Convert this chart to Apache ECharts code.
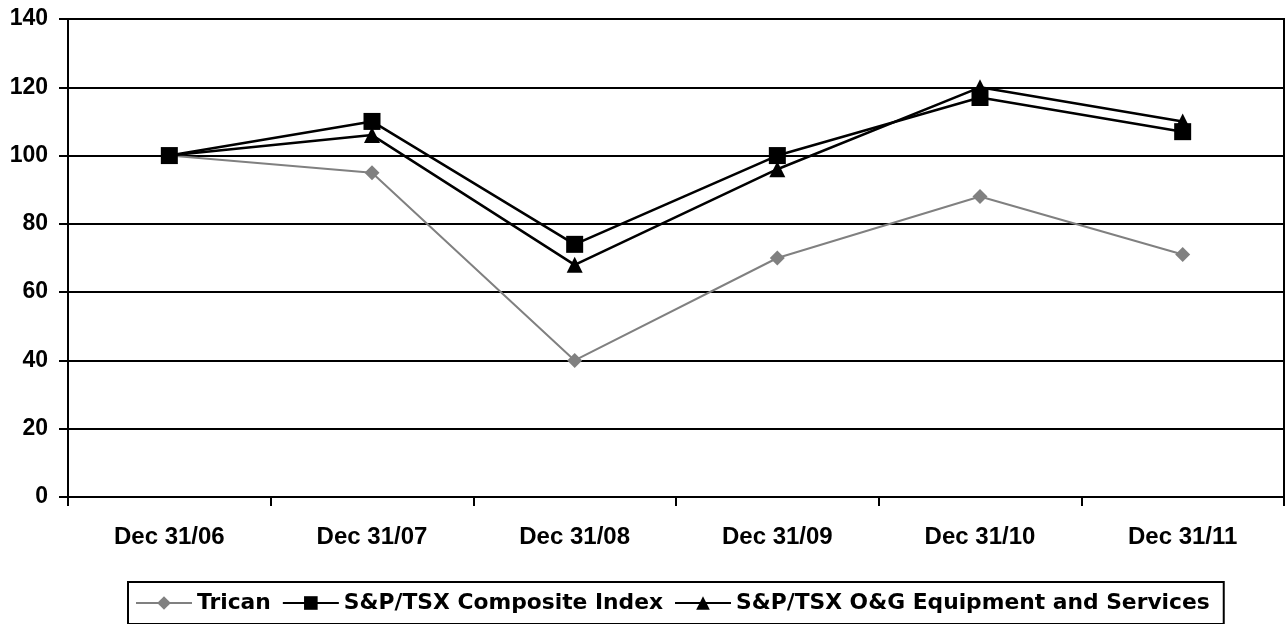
<!DOCTYPE html>
<html>
<head>
<meta charset="utf-8">
<script src="https://cdn.jsdelivr.net/npm/echarts@6/dist/echarts.min.js"></script>
<style>
  html, body { margin: 0; padding: 0; background: #fff; }
  #chart { width: 1285px; height: 624px; }
</style>
</head>
<body>
<div id="chart"></div>
<script>
var categories = ['Dec 31/06', 'Dec 31/07', 'Dec 31/08', 'Dec 31/09', 'Dec 31/10', 'Dec 31/11'];
var trican = [100, 95, 40, 70, 88, 71];
var composite = [100, 110, 74, 100, 117, 107];
var oilGas = [100, 106, 68, 96, 120, 110];

var myChart = echarts.init(document.getElementById('chart'));
var font = 'Liberation Sans, Arial, sans-serif';
var legendFont = 'DejaVu Sans, sans-serif';

myChart.setOption({
    animation: false,
    grid: {
        left: 68, right: 1, top: 19, bottom: 127,
        show: true, borderColor: '#000', borderWidth: 2
    },
    legend: {
        bottom: 0,
        left: 128,
        padding: [10, 14, 10, 7],
        itemGap: 11,
        itemWidth: 56,
        itemHeight: 17,
        borderColor: '#000',
        borderWidth: 2,
        textStyle: { fontFamily: legendFont, fontWeight: 'bold', fontSize: 21.8, color: '#000' },
        data: ['Trican', 'S&P/TSX Composite Index', 'S&P/TSX O&G Equipment and Services']
    },
    xAxis: {
        type: 'category',
        data: categories,
        axisLine: { lineStyle: { color: '#000', width: 2 } },
        axisTick: { show: true, length: 9, lineStyle: { color: '#000', width: 2 } },
        axisLabel: { margin: 28, fontFamily: font, fontWeight: 'bold', fontSize: 24, color: '#000' }
    },
    yAxis: {
        type: 'value',
        min: 0, max: 140, interval: 20,
        axisLine: { show: true, lineStyle: { color: '#000', width: 2 } },
        axisTick: { show: true, length: 9, lineStyle: { color: '#000', width: 2 } },
        axisLabel: { margin: 20, fontFamily: font, fontWeight: 'bold', fontSize: 23, color: '#000' },
        splitLine: { lineStyle: { color: '#000', width: 2 } }
    },
    series: [{
        name: 'Trican',
        type: 'line',
        data: trican,
        symbol: 'diamond',
        symbolSize: 15,
        itemStyle: { color: '#808080' },
        lineStyle: { color: '#808080', width: 2 }
    }, {
        name: 'S&P/TSX Composite Index',
        type: 'line',
        data: composite,
        symbol: 'rect',
        symbolSize: 17,
        itemStyle: { color: '#000' },
        lineStyle: { color: '#000', width: 2.5 }
    }, {
        name: 'S&P/TSX O&G Equipment and Services',
        type: 'line',
        data: oilGas,
        symbol: 'triangle',
        symbolSize: 16,
        itemStyle: { color: '#000' },
        lineStyle: { color: '#000', width: 2.5 }
    }]
});
</script>
</body>
</html>
